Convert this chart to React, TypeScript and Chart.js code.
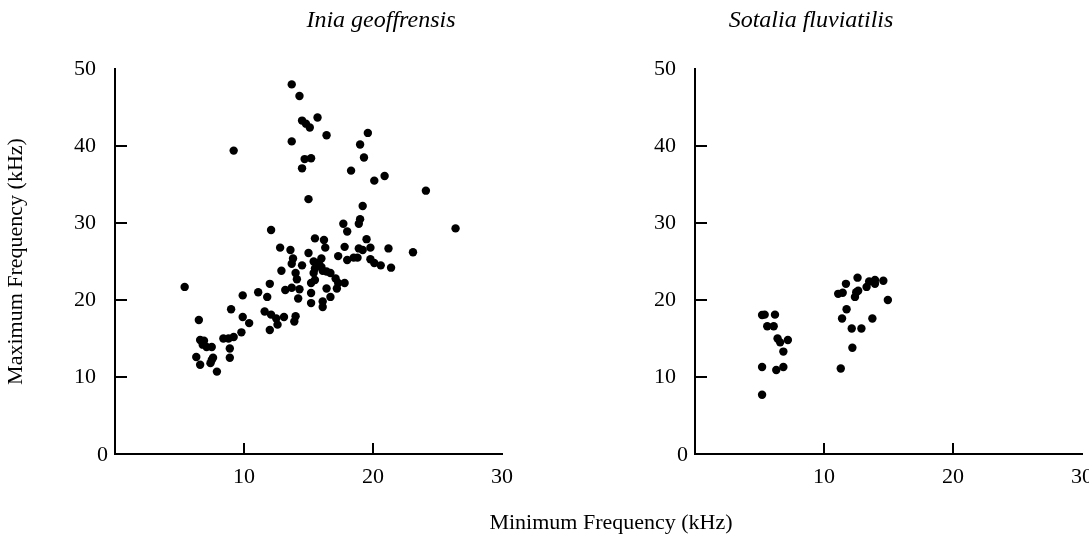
import React, { useEffect, useRef } from 'react';
import { Chart, registerables } from 'chart.js';

Chart.register(...registerables);

// ---- Data (kHz) ----
const X_TICKS = [0, 10, 20, 30];
const Y_TICKS = [0, 10, 20, 30, 40, 50];

const iniaMinFreq = [
  13.7, 14.3, 14.5, 14.8, 15.1, 15.7, 16.4, 13.7, 14.7, 15.2, 14.5, 15.0, 19.6, 19.0, 19.3, 18.3, 19.2, 9.2, 20.1, 20.9,
  24.1, 19.0, 18.9, 26.4, 19.5, 18.9, 19.2, 19.8, 21.2, 23.1, 18.8, 19.8, 20.1, 20.6, 21.4, 17.7, 18.0, 16.2, 16.3, 17.8,
  16.0, 17.3, 18.0, 18.5, 16.0, 16.1, 16.7, 17.1, 17.3, 17.8, 16.4, 17.2, 16.7, 16.1, 16.1, 12.1, 12.8, 13.6, 15.0, 15.5,
  13.8, 13.7, 14.5, 15.4, 15.8, 15.5, 16.4, 12.9, 14.0, 14.1, 15.4, 15.5, 12.0, 15.2, 11.8, 13.2, 13.7, 14.3, 14.2, 15.2,
  15.2, 11.6, 12.1, 12.5, 13.1, 14.0, 13.9, 12.6, 12.0, 5.4, 9.9, 11.1, 9.0, 9.9, 10.4, 6.5, 9.8, 6.6, 6.9, 6.8,
  7.1, 7.5, 8.4, 8.8, 9.2, 8.9, 6.3, 6.6, 7.5, 7.6, 7.4, 8.9, 7.9,
];
const iniaMaxFreq = [
  48.0, 46.5, 43.3, 42.9, 42.4, 43.7, 41.4, 40.6, 38.3, 38.4, 37.1, 33.1, 41.7, 40.2, 38.5, 36.8, 32.2, 39.4, 35.5, 36.1,
  34.2, 30.5, 29.9, 29.3, 27.9, 26.7, 26.5, 26.8, 26.7, 26.2, 25.5, 25.3, 24.8, 24.5, 24.2, 29.9, 28.9, 27.8, 26.8, 26.9,
  25.4, 25.7, 25.2, 25.5, 24.3, 23.8, 23.5, 22.8, 22.2, 22.2, 21.5, 21.5, 20.4, 19.8, 19.1, 29.1, 26.8, 26.5, 26.1, 28.0,
  25.4, 24.7, 24.5, 25.0, 24.8, 24.1, 23.7, 23.8, 23.5, 22.7, 23.5, 22.6, 22.1, 22.2, 20.4, 21.3, 21.6, 21.4, 20.2, 20.9,
  19.6, 18.5, 18.1, 17.6, 17.8, 17.9, 17.2, 16.8, 16.1, 21.7, 20.6, 21.0, 18.8, 17.8, 17.0, 17.4, 15.8, 14.8, 14.7, 14.2,
  13.9, 13.9, 15.0, 15.0, 15.2, 13.7, 12.6, 11.6, 12.2, 12.5, 11.8, 12.5, 10.7,
];

const sotaliaMinFreq = [
  5.2, 5.4, 6.2, 5.6, 6.1, 6.4, 6.6, 7.2, 6.85, 5.2, 6.3, 6.85, 5.2,
  11.1, 11.45, 11.7, 12.6, 12.5, 12.65, 12.4, 13.3, 13.5, 13.95, 13.95, 11.75, 11.4, 12.15, 12.9, 13.75, 12.2, 11.3, 14.6, 14.95,
];
const sotaliaMaxFreq = [
  18.05, 18.1, 18.1, 16.6, 16.6, 15.0, 14.5, 14.8, 13.3, 11.3, 10.9, 11.3, 7.7,
  20.8, 20.95, 22.1, 22.9, 21.0, 21.2, 20.4, 21.7, 22.4, 22.6, 22.1, 18.8, 17.6, 16.3, 16.3, 17.6, 13.8, 11.1, 22.5, 20.0,
];

const SPECIES = ['Inia geoffrensis', 'Sotalia fluviatilis'];
const X_TITLE = 'Minimum Frequency (kHz)';
const Y_TITLE = 'Maximum Frequency (kHz)';

const FONT = '"Liberation Serif", "Times New Roman", serif';

type PanelOpts = {
  xs: number[];
  ys: number[];
  title: string;
  titleX: number;
  padLeft: number;
  padRight: number;
  showYTitle: boolean;
  showXTitle: boolean;
};

function makeChart(canvas: HTMLCanvasElement, p: PanelOpts) {
  const points = p.xs.map((x, i) => ({ x, y: p.ys[i] }));
  const decor = {
    id: 'decor',
    afterDraw(chart: any) {
      const { ctx, chartArea } = chart;
      const xs = chart.scales.x;
      const ys = chart.scales.y;
      ctx.save();
      ctx.strokeStyle = '#000';
      ctx.lineWidth = 2;
      ctx.beginPath();
      for (const v of X_TICKS) {
        if (v > xs.min && v < xs.max) {
          const px = Math.round(xs.getPixelForValue(v));
          ctx.moveTo(px, chartArea.bottom);
          ctx.lineTo(px, chartArea.bottom - 11);
        }
      }
      for (const v of Y_TICKS) {
        if (v > ys.min && v < ys.max) {
          const py = Math.round(ys.getPixelForValue(v));
          ctx.moveTo(chartArea.left, py);
          ctx.lineTo(chartArea.left + 12, py);
        }
      }
      ctx.stroke();
      ctx.fillStyle = '#000';
      ctx.font = `22px ${FONT}`;
      ctx.textAlign = 'right';
      ctx.textBaseline = 'middle';
      ctx.fillText('0', chartArea.left - 7, chartArea.bottom + 1);
      ctx.font = `italic 24px ${FONT}`;
      ctx.textAlign = 'center';
      ctx.fillText(p.title, p.titleX, 21);
      if (p.showXTitle) {
        ctx.font = `22px ${FONT}`;
        ctx.fillText(X_TITLE, 611, 523);
      }
      ctx.restore();
    },
  };
  return new Chart(canvas, {
    type: 'scatter',
    data: {
      datasets: [
        {
          data: points,
          backgroundColor: '#000',
          borderColor: '#000',
          borderWidth: 0,
          pointRadius: 4.2,
          pointHoverRadius: 4.2,
        },
      ],
    },
    options: {
      animation: false,
      responsive: false,
      devicePixelRatio: 1,
      events: [],
      layout: { padding: { left: p.padLeft, right: p.padRight, top: 69, bottom: 0 } },
      plugins: { legend: { display: false }, tooltip: { enabled: false }, title: { display: false } },
      scales: {
        x: {
          type: 'linear',
          min: 0,
          max: 30,
          afterFit: (s: any) => {
            s.height = 84;
            s.paddingLeft = 0;
            s.paddingRight = 0;
          },
          afterBuildTicks: (s: any) => {
            s.ticks = X_TICKS.map((v) => ({ value: v }));
          },
          grid: { display: false, drawTicks: false },
          border: { display: true, color: '#000', width: 2 },
          ticks: {
            color: '#000',
            padding: 10,
            font: { family: FONT, size: 22 },
            maxRotation: 0,
            callback: (v: any) => (v === 0 ? '' : String(v)),
          },
        },
        y: {
          type: 'linear',
          min: 0,
          max: 50,
          afterFit: (s: any) => {
            s.width = 115;
            s.paddingTop = 0;
            s.paddingBottom = 0;
          },
          afterBuildTicks: (s: any) => {
            s.ticks = Y_TICKS.map((v) => ({ value: v }));
          },
          grid: { display: false, drawTicks: false },
          border: { display: true, color: '#000', width: 2 },
          ticks: {
            color: '#000',
            padding: 19,
            font: { family: FONT, size: 22 },
            callback: (v: any) => (v === 0 ? '' : String(v)),
          },
          title: {
            display: p.showYTitle,
            text: Y_TITLE,
            color: '#000',
            font: { family: FONT, size: 22 },
            padding: { top: 3, bottom: 0 },
          },
        },
      },
    },
    plugins: [decor],
  } as any);
}

export default function App() {
  const leftRef = useRef<HTMLCanvasElement>(null);
  const rightRef = useRef<HTMLCanvasElement>(null);

  useEffect(() => {
    document.body.style.margin = '0';
    const a = makeChart(leftRef.current!, {
      xs: iniaMinFreq,
      ys: iniaMaxFreq,
      title: SPECIES[0],
      titleX: 381,
      padLeft: 0,
      padRight: 587,
      showYTitle: true,
      showXTitle: true,
    });
    const b = makeChart(rightRef.current!, {
      xs: sotaliaMinFreq,
      ys: sotaliaMaxFreq,
      title: SPECIES[1],
      titleX: 811,
      padLeft: 580,
      padRight: 7,
      showYTitle: false,
      showXTitle: false,
    });
    return () => {
      a.destroy();
      b.destroy();
    };
  }, []);

  const cs: React.CSSProperties = { position: 'absolute', left: 0, top: 0, width: 1089, height: 538 };
  return (
    <div style={{ position: 'relative', width: 1089, height: 538, background: '#fff', overflow: 'hidden' }}>
      <canvas ref={leftRef} width={1089} height={538} style={cs} />
      <canvas ref={rightRef} width={1089} height={538} style={cs} />
    </div>
  );
}
